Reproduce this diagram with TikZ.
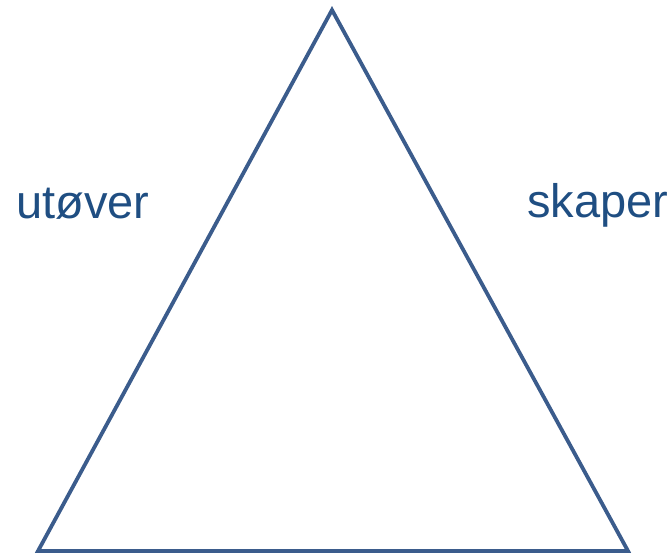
\documentclass[tikz,border=0pt]{standalone}
\usepackage{fontspec}
\setmainfont{Liberation Sans}
\definecolor{linec}{HTML}{3B5C8C}
\definecolor{textc}{HTML}{1F4E82}
\tikzset{lbl/.style={anchor=base west,inner sep=0pt,text=textc,font=\fontsize{47}{50}\selectfont}}
\begin{document}
\begin{tikzpicture}[x=1pt,y=1pt]
\useasboundingbox (0,0) rectangle (672,556);
\coordinate (top) at (332,546);
\coordinate (bl) at (38,5);
\coordinate (br) at (628,5);
\draw[linec,line width=3.8pt,line join=miter] (top) -- (br) -- (bl) -- cycle;
\node[lbl] (u) at (16,337) {utøver};
\node[lbl] (s) at (527,338) {skaper};
\end{tikzpicture}
\end{document}
